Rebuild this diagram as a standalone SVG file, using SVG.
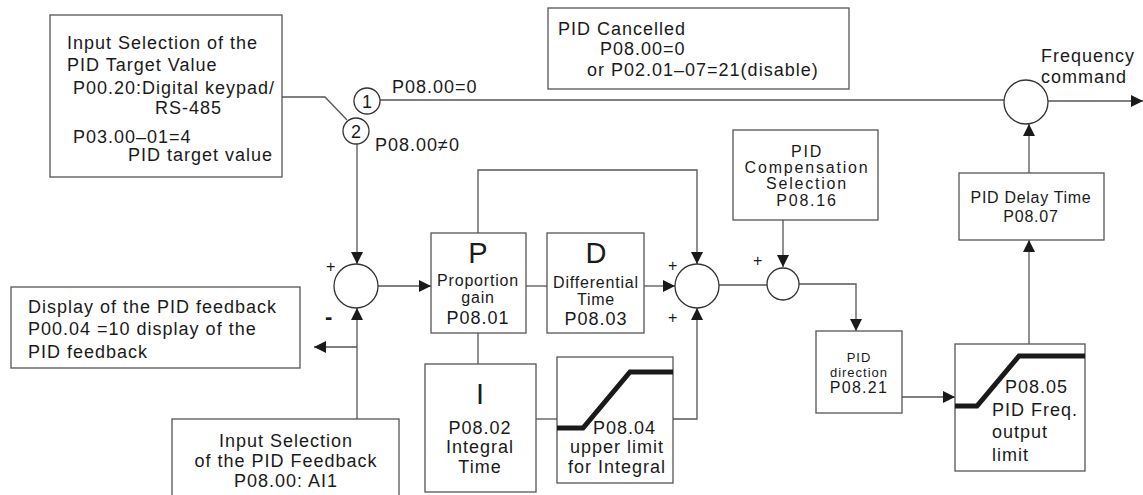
<svg xmlns="http://www.w3.org/2000/svg" width="1143" height="495" viewBox="0 0 1143 495">
<style>
text{font-family:"Liberation Sans",Arial,sans-serif;fill:#1a1a1a}
.a{font-size:18px;letter-spacing:1px}
.b{font-size:16px;letter-spacing:0.8px}
.c{font-size:13px;letter-spacing:1px}
.big{font-size:29px}
.m{text-anchor:middle}
.box{fill:#fff;stroke:#555;stroke-width:1.3}
.sum{fill:#fff;stroke:#333;stroke-width:1.3}
.ln{fill:none;stroke:#555;stroke-width:1.3}
.thick{fill:none;stroke:#1a1a1a;stroke-width:5}
</style>
<defs>
<marker id="ah" viewBox="0 0 12 12" refX="12" refY="6" markerWidth="12" markerHeight="12" markerUnits="userSpaceOnUse" orient="auto">
<path d="M0,0 L12,6 L0,12 z" fill="#1a1a1a"/>
</marker>
</defs>

<g id="connectors">
<polyline class="ln" points="282,97 325,97 347,120"/>
<line class="ln" x1="380" y1="100" x2="1004" y2="100"/>
<line class="ln" x1="357" y1="144" x2="357" y2="264" marker-end="url(#ah)"/>
<line class="ln" x1="357" y1="419" x2="357" y2="308" marker-end="url(#ah)"/>
<line class="ln" x1="357" y1="347" x2="314" y2="347" marker-end="url(#ah)"/>
<line class="ln" x1="378" y1="286" x2="431" y2="286" marker-end="url(#ah)"/>
<line class="ln" x1="526" y1="286" x2="547" y2="286"/>
<line class="ln" x1="644" y1="286" x2="675" y2="286" marker-end="url(#ah)"/>
<polyline class="ln" points="478,233 478,170 697,170 697,264" marker-end="url(#ah)"/>
<line class="ln" x1="478" y1="333" x2="478" y2="364"/>
<line class="ln" x1="536" y1="419" x2="557" y2="419"/>
<polyline class="ln" points="673,419 697,419 697,308" marker-end="url(#ah)"/>
<line class="ln" x1="719" y1="285" x2="767" y2="285"/>
<line class="ln" x1="783" y1="220" x2="783" y2="267" marker-end="url(#ah)"/>
<polyline class="ln" points="799,284 856,284 856,331" marker-end="url(#ah)"/>
<line class="ln" x1="902" y1="397" x2="955" y2="397" marker-end="url(#ah)"/>
<line class="ln" x1="1029" y1="344" x2="1029" y2="240" marker-end="url(#ah)"/>
<line class="ln" x1="1029" y1="173" x2="1029" y2="124" marker-end="url(#ah)"/>
<line class="ln" x1="1048" y1="101" x2="1143" y2="101" marker-end="url(#ah)"/>
</g>

<g id="target">
<rect class="box" x="50" y="15" width="232" height="162"/>
<text class="a" x="67" y="49">Input Selection of the</text>
<text class="a" x="67" y="71">PID Target Value</text>
<text class="a" x="73" y="94">P00.20:Digital keypad/</text>
<text class="a" x="155" y="114">RS-485</text>
<text class="a" x="73" y="143">P03.00–01=4</text>
<text class="a" x="128" y="161">PID target value</text>
</g>

<g id="sw1">
<circle class="sum" cx="367" cy="101" r="13"/>
<text class="m" x="367" y="107.5" style="font-size:18px">1</text>
</g>
<g id="sw2">
<circle class="sum" cx="356" cy="131" r="13"/>
<text class="m" x="356" y="137.5" style="font-size:18px">2</text>
</g>
<text class="a" x="392" y="93">P08.00=0</text>
<text class="a" x="375" y="151">P08.00≠0</text>

<g id="cancel">
<rect class="box" x="548" y="8" width="301" height="81"/>
<text class="a" x="558" y="35">PID Cancelled</text>
<text class="a" x="600" y="55">P08.00=0</text>
<text class="a" x="587" y="76">or  P02.01–07=21(disable)</text>
</g>

<g id="freqsum">
<circle class="sum" cx="1026" cy="102" r="22"/>
<text class="a" x="1041" y="62">Frequency</text>
<text class="a" x="1041" y="83">command</text>
</g>

<g id="sum1">
<circle class="sum" cx="356" cy="286" r="22"/>
<text x="326" y="272" style="font-size:16px">+</text>
<text x="325" y="324" style="font-size:22px;font-weight:bold">-</text>
</g>

<g id="display">
<rect class="box" x="11" y="287" width="289" height="81"/>
<text class="a" x="28" y="313">Display of the PID feedback</text>
<text class="a" x="28" y="335">P00.04 =10 display of the</text>
<text class="a" x="28" y="358">PID feedback</text>
</g>

<g id="feedback">
<rect class="box" x="172" y="419" width="227" height="80"/>
<text class="a m" x="286" y="447">Input Selection</text>
<text class="a m" x="286" y="467">of the PID Feedback</text>
<text class="a m" x="286" y="487">P08.00: AI1</text>
</g>

<g id="P">
<rect class="box" x="431" y="233" width="95" height="100"/>
<text class="big m" x="478" y="263">P</text>
<text class="b m" x="478" y="286">Proportion</text>
<text class="b m" x="478" y="303">gain</text>
<text class="a m" x="478" y="324">P08.01</text>
</g>

<g id="D">
<rect class="box" x="547" y="233" width="97" height="100"/>
<text class="big m" x="596" y="263">D</text>
<text class="b m" x="596" y="288">Differential</text>
<text class="b m" x="596" y="305">Time</text>
<text class="a m" x="596" y="325">P08.03</text>
</g>

<g id="I">
<rect class="box" x="425" y="364" width="111" height="128"/>
<text class="big m" x="480" y="404">I</text>
<text class="a m" x="480" y="434">P08.02</text>
<text class="a m" x="480" y="453">Integral</text>
<text class="a m" x="480" y="473">Time</text>
</g>

<g id="ilimit">
<rect class="box" x="557" y="357" width="116" height="126"/>
<polyline class="thick" points="557,428 583,428 630,372 673,372"/>
<text class="a" x="593" y="434">P08.04</text>
<text class="a m" x="617" y="453">upper limit</text>
<text class="a m" x="617" y="473">for Integral</text>
</g>

<g id="sum2">
<circle class="sum" cx="697" cy="286" r="22"/>
<text x="668" y="271" style="font-size:16px">+</text>
<text x="668" y="323" style="font-size:16px">+</text>
</g>

<g id="comp">
<rect class="box" x="733" y="130" width="145" height="90"/>
<text class="b m" x="807" y="157" style="letter-spacing:1.8px">PID</text>
<text class="b m" x="807" y="173" style="letter-spacing:1.8px">Compensation</text>
<text class="b m" x="807" y="189" style="letter-spacing:1.8px">Selection</text>
<text class="b m" x="807" y="206" style="letter-spacing:1.8px">P08.16</text>
</g>

<g id="sum3">
<circle class="sum" cx="783" cy="284" r="16"/>
<text x="753" y="266" style="font-size:16px">+</text>
</g>

<g id="direction">
<rect class="box" x="816" y="331" width="86" height="82"/>
<text class="c m" x="859" y="362">PID</text>
<text class="c m" x="859" y="377">direction</text>
<text class="m" x="859" y="393" style="font-size:16px;letter-spacing:1.3px">P08.21</text>
</g>

<g id="olimit">
<rect class="box" x="955" y="344" width="130" height="127"/>
<polyline class="thick" points="955,406 977,406 1019,356 1085,356"/>
<text class="a" x="1005" y="393">P08.05</text>
<text class="a" x="992" y="416">PID Freq.</text>
<text class="a" x="992" y="438">output</text>
<text class="a" x="992" y="461">limit</text>
</g>

<g id="delay">
<rect class="box" x="959" y="173" width="145" height="67"/>
<text class="b m" x="1031" y="203" style="letter-spacing:0.7px">PID Delay Time</text>
<text class="b m" x="1031" y="222">P08.07</text>
</g>
</svg>
